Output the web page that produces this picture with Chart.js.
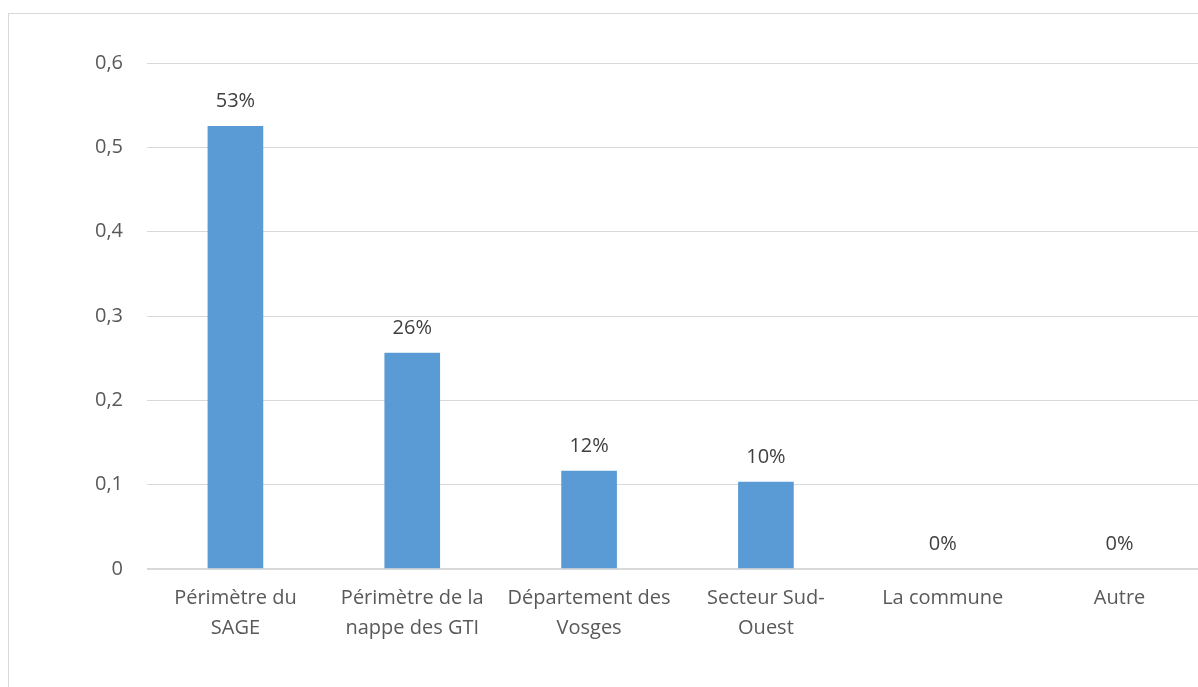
<!DOCTYPE html>
<html>
<head>
<meta charset="utf-8">
<script src="https://cdn.jsdelivr.net/npm/chart.js@4"></script>
<style>
  html, body { margin: 0; padding: 0; background: #fff; overflow: hidden; }
  #wrap { position: absolute; left: 0; top: 0; width: 1220px; height: 687px; }
  #frame { position: absolute; left: 8px; top: 13px; width: 1300px; height: 800px; border: 1.5px solid #d9d9d9; }
</style>
</head>
<body>
<div id="frame"></div>
<div id="wrap"><canvas id="myChart" width="1220" height="687"></canvas></div>
<script>
// categories, valeurs et ticks
const categories = [
  ['Périmètre du', 'SAGE'],
  ['Périmètre de la', 'nappe des GTI'],
  ['Département des', 'Vosges'],
  ['Secteur Sud-', 'Ouest'],
  'La commune',
  'Autre'
];
const values = [0.525, 0.256, 0.116, 0.103, 0, 0];
const pctLabels = ['53%', '26%', '12%', '10%', '0%', '0%'];
const yTicks = ['0', '0,1', '0,2', '0,3', '0,4', '0,5', '0,6'];

const fontName = '"Open Sans", sans-serif';

// etiquettes au-dessus des barres
const barLabels = {
  id: 'barLabels',
  afterDatasetsDraw(chart) {
    const c = chart.ctx;
    const meta = chart.getDatasetMeta(0);
    c.save();
    c.font = '20px ' + fontName;
    c.fillStyle = '#404040';
    c.textAlign = 'center';
    c.textBaseline = 'middle';
    meta.data.forEach(function(bar, i) {
      c.fillText(pctLabels[i], bar.x, bar.y - 25);
    });
    c.restore();
  }
};

const ctx = document.getElementById('myChart');
const myChart = new Chart(ctx, {
  type: 'bar',
  data: {
    labels: categories,
    datasets: [{
      data: values,
      backgroundColor: function(c) { return c.raw === 0 ? 'rgba(0,0,0,0)' : '#5b9bd5'; },
      barThickness: 55
    }]
  },
  options: {
    responsive: false,
    animation: false,
    layout: { padding: { left: 0, top: 63, right: 12, bottom: 0 } },
    plugins: { legend: { display: false }, tooltip: { enabled: false } },
    scales: {
      x: {
        grid: { display: false },
        border: { display: false },
        ticks: {
          color: '#595959',
          font: { family: fontName, size: 20, lineHeight: 1.5 },
          padding: 6,
          maxRotation: 0,
          autoSkip: false
        },
        afterFit: function(scale) { scale.height = 118; }
      },
      y: {
        min: 0,
        max: 0.6,
        border: { display: false },
        grid: {
          color: '#d9d9d9',
          lineWidth: function(c) { return c.tick && c.tick.value === 0 ? 2 : 1; },
          drawTicks: false
        },
        ticks: {
          stepSize: 0.1,
          color: '#595959',
          font: { family: fontName, size: 20 },
          padding: 24,
          callback: function(v, i) { return yTicks[i]; }
        },
        afterFit: function(scale) { scale.width = 147; }
      }
    }
  },
  plugins: [barLabels]
});
</script>
</body>
</html>
